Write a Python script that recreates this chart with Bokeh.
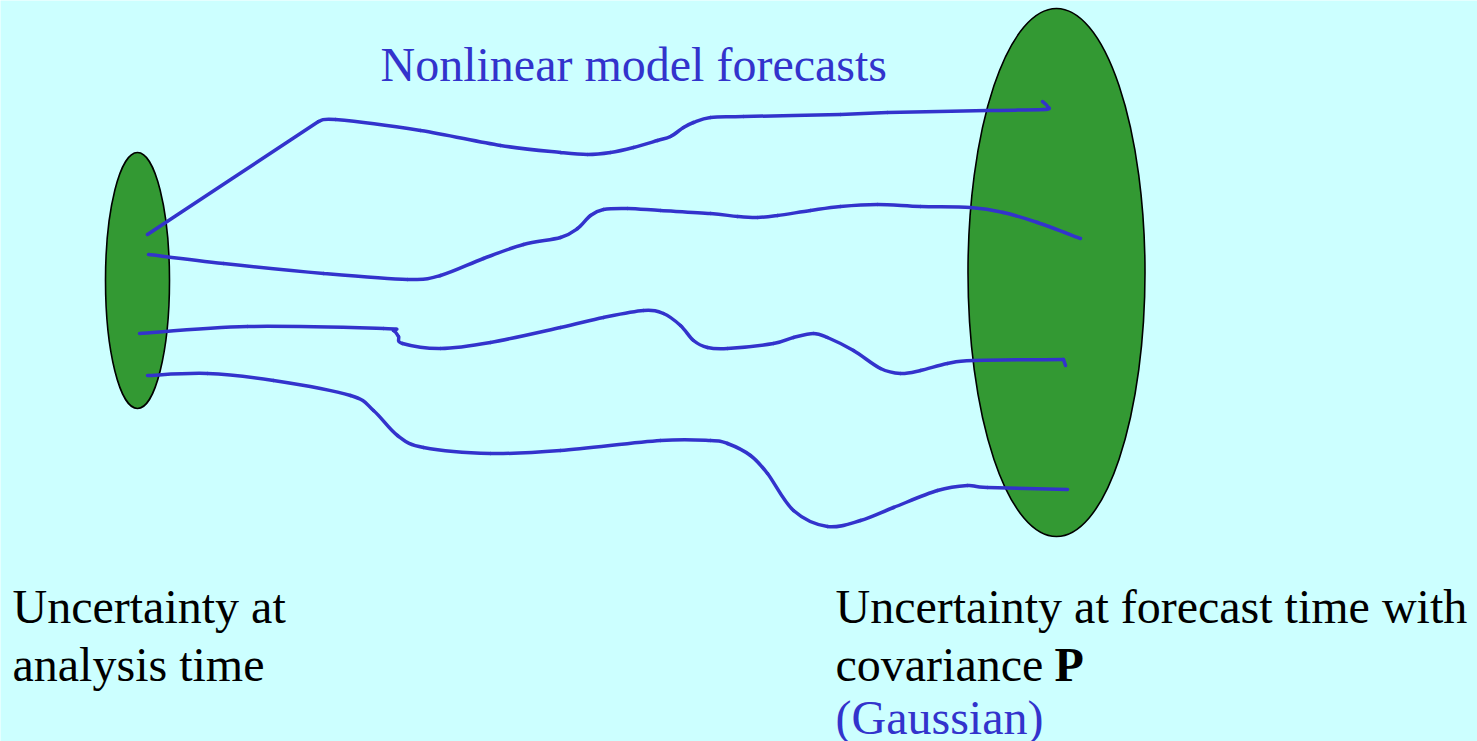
from bokeh.plotting import figure
from bokeh.models import Range1d
from bokeh.core.properties import value
from bokeh.embed import file_html
from bokeh.resources import INLINE

# ---- data (reference pixel coordinates, y grows downward) ----
ellipse_names = ["analysis", "forecast"]
ellipse_cx = [137, 1056]
ellipse_cy = [280, 272]
ellipse_w = [64, 177]
ellipse_h = [256, 528]

curve1_x = [147, 318, 335, 420, 500, 560, 587, 610, 633, 657, 670, 683, 693, 710, 743, 840, 887, 987, 1043, 1047, 1042]
curve1_y = [234, 121, 119, 130, 145, 152, 154, 152, 147, 140, 136, 127, 122, 117, 116, 114, 112, 110, 109, 106, 101]
curve1_corners = [1]

curve2_x = [148, 223, 323, 407, 440, 483, 523, 560, 577, 590, 603, 627, 660, 710, 737, 757, 777, 810, 840, 877, 920, 970, 1003, 1037, 1080]
curve2_y = [254, 263, 273, 279, 275, 258, 244, 237, 228, 215, 209, 208, 210, 213, 216, 217, 215, 210, 206, 204, 206, 207, 212, 222, 238]
curve2_corners = []

curve3_x = [139, 247, 383, 393, 398, 402, 440, 490, 560, 603, 643, 663, 680, 693, 707, 727, 773, 793, 813, 827, 853, 880, 900, 920, 947, 973, 1063, 1065]
curve3_y = [333, 326, 328, 330, 336, 343, 348, 342, 327, 317, 310, 313, 325, 340, 347, 348, 343, 337, 333, 337, 350, 368, 373, 370, 363, 360, 359, 365]
curve3_corners = [26]

curve4_x = [147, 207, 273, 350, 373, 397, 423, 490, 560, 660, 710, 727, 750, 767, 793, 827, 860, 893, 937, 967, 987, 1067]
curve4_y = [375, 373, 380, 395, 410, 435, 447, 453, 450, 440, 440, 443, 455, 473, 510, 526, 520, 507, 490, 485, 487, 489]
curve4_corners = []

title_text = "Nonlinear model forecasts"
left_lines = ["Uncertainty at", "analysis time"]
right_lines = ["Uncertainty at forecast time with", "covariance"]
bold_symbol = "P"
gaussian_text = "(Gaussian)"

BG = "#CCFFFF"
GREEN = "#339933"
BLUE = "#3333CC"
FONT = "Liberation Serif"
TEXT_SHIFT = -15


def smooth_segments(xs, ys, corners):
    """Catmull-Rom -> cubic Bezier control points, split at sharp corners."""
    seg = dict(x0=[], y0=[], x1=[], y1=[], cx0=[], cy0=[], cx1=[], cy1=[])
    cuts = [0] + list(corners) + [len(xs) - 1]
    for a, b in zip(cuts[:-1], cuts[1:]):
        sx = xs[a:b + 1]
        sy = ys[a:b + 1]
        n = len(sx)
        px = [sx[0]] + list(sx) + [sx[-1]]
        py = [sy[0]] + list(sy) + [sy[-1]]
        for i in range(1, n):
            seg["x0"].append(px[i]); seg["y0"].append(py[i])
            seg["x1"].append(px[i + 1]); seg["y1"].append(py[i + 1])
            seg["cx0"].append(px[i] + (px[i + 1] - px[i - 1]) / 6.0)
            seg["cy0"].append(py[i] + (py[i + 1] - py[i - 1]) / 6.0)
            seg["cx1"].append(px[i + 1] - (px[i + 2] - px[i]) / 6.0)
            seg["cy1"].append(py[i + 1] - (py[i + 2] - py[i]) / 6.0)
    return seg


p = figure(width=1477, height=741, output_backend="svg", toolbar_location=None,
           x_range=Range1d(0, 1477), y_range=Range1d(741, 0),
           background_fill_color=BG, border_fill_color=BG, min_border=0)
p.axis.visible = False
p.grid.visible = False
p.outline_line_color = None

p.ellipse(x=ellipse_cx, y=ellipse_cy, width=ellipse_w, height=ellipse_h,
          fill_color=GREEN, line_color="black", line_width=1.6)

for xs, ys, cs in [(curve1_x, curve1_y, curve1_corners), (curve2_x, curve2_y, curve2_corners),
                   (curve3_x, curve3_y, curve3_corners), (curve4_x, curve4_y, curve4_corners)]:
    s = smooth_segments(xs, ys, cs)
    p.bezier(x0=s["x0"], y0=s["y0"], x1=s["x1"], y1=s["y1"],
             cx0=s["cx0"], cy0=s["cy0"], cx1=s["cx1"], cy1=s["cy1"],
             line_color=BLUE, line_width=3.5, line_cap="round")

p.text(x=[380], y=[79 + TEXT_SHIFT], text=[title_text], text_color=BLUE, text_font=value(FONT),
       text_font_size="48px", text_baseline="alphabetic")
p.text(x=[12, 12], y=[621 + TEXT_SHIFT, 679 + TEXT_SHIFT], text=left_lines, text_color="black",
       text_font=value(FONT), text_font_size="48px", text_baseline="alphabetic")
p.text(x=[835, 835], y=[621 + TEXT_SHIFT, 679 + TEXT_SHIFT], text=right_lines, text_color="black",
       text_font=value(FONT), text_font_size="48px", text_baseline="alphabetic")
p.text(x=[1054], y=[679 + TEXT_SHIFT], text=[bold_symbol], text_color="black", text_font=value(FONT),
       text_font_size="48px", text_font_style="bold", text_baseline="alphabetic")
p.text(x=[835], y=[732 + TEXT_SHIFT], text=[gaussian_text], text_color=BLUE, text_font=value(FONT),
       text_font_size="48px", text_baseline="alphabetic")

open("out.html", "w").write(file_html(p, INLINE))
